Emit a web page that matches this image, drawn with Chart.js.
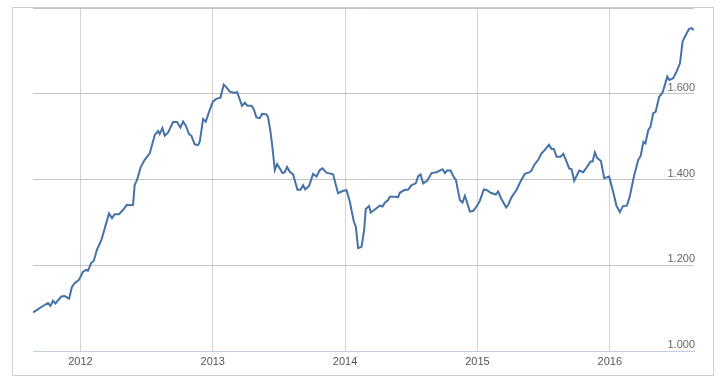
<!DOCTYPE html>
<html>
<head>
<meta charset="utf-8">
<script src="https://cdn.jsdelivr.net/npm/chart.js@4/dist/chart.umd.min.js"></script>
<style>
  html, body { margin: 0; padding: 0; background: #fff; }
  #wrap { width: 725px; height: 386px; position: relative; }
</style>
</head>
<body>
<div id="wrap"><canvas id="chart"></canvas></div>
<script>
// decimal years
const years = [
  2011.642, 2011.692, 2011.717, 2011.755, 2011.773, 2011.793, 2011.811, 2011.856, 2011.881, 2011.914,
  2011.937, 2011.957, 2011.989, 2012.020, 2012.045, 2012.057, 2012.083, 2012.101, 2012.125, 2012.159,
  2012.184, 2012.216, 2012.239, 2012.259, 2012.292, 2012.327, 2012.352, 2012.373, 2012.398, 2012.410,
  2012.428, 2012.456, 2012.486, 2012.524, 2012.562, 2012.587, 2012.599, 2012.620, 2012.637, 2012.662,
  2012.700, 2012.730, 2012.756, 2012.776, 2012.796, 2012.821, 2012.839, 2012.864, 2012.889, 2012.902,
  2012.927, 2012.947, 2012.977, 2013.002, 2013.028, 2013.058, 2013.083, 2013.104, 2013.129, 2013.166,
  2013.184, 2013.204, 2013.221, 2013.242, 2013.262, 2013.293, 2013.310, 2013.330, 2013.355, 2013.373,
  2013.406, 2013.418, 2013.436, 2013.451, 2013.469, 2013.486, 2013.506, 2013.527, 2013.544, 2013.562,
  2013.582, 2013.607, 2013.640, 2013.663, 2013.683, 2013.698, 2013.728, 2013.758, 2013.784, 2013.809,
  2013.829, 2013.859, 2013.909, 2013.947, 2013.980, 2014.011, 2014.036, 2014.048, 2014.066, 2014.081,
  2014.098, 2014.124, 2014.144, 2014.156, 2014.181, 2014.194, 2014.237, 2014.262, 2014.283, 2014.300,
  2014.325, 2014.338, 2014.376, 2014.401, 2014.413, 2014.451, 2014.476, 2014.502, 2014.534, 2014.552,
  2014.570, 2014.590, 2014.620, 2014.653, 2014.691, 2014.736, 2014.754, 2014.771, 2014.797, 2014.822,
  2014.837, 2014.867, 2014.887, 2014.905, 2014.922, 2014.943, 2014.968, 2014.993, 2015.018, 2015.048,
  2015.073, 2015.099, 2015.139, 2015.156, 2015.182, 2015.217, 2015.232, 2015.258, 2015.296, 2015.328,
  2015.358, 2015.396, 2015.409, 2015.429, 2015.459, 2015.484, 2015.509, 2015.540, 2015.560, 2015.577,
  2015.598, 2015.628, 2015.648, 2015.668, 2015.693, 2015.711, 2015.731, 2015.769, 2015.799, 2015.825,
  2015.855, 2015.870, 2015.887, 2015.905, 2015.933, 2015.958, 2015.995, 2016.026, 2016.051, 2016.076,
  2016.099, 2016.129, 2016.152, 2016.182, 2016.215, 2016.233, 2016.254, 2016.269, 2016.290, 2016.307,
  2016.328, 2016.346, 2016.373, 2016.399, 2016.434, 2016.449, 2016.479, 2016.505, 2016.530, 2016.550,
  2016.567, 2016.598, 2016.618, 2016.636
];

const values = [
  1.090, 1.100, 1.105, 1.112, 1.105, 1.117, 1.111, 1.127, 1.128, 1.122,
  1.150, 1.158, 1.166, 1.185, 1.189, 1.187, 1.206, 1.210, 1.236, 1.259,
  1.286, 1.321, 1.310, 1.319, 1.319, 1.331, 1.341, 1.340, 1.341, 1.387,
  1.399, 1.429, 1.446, 1.461, 1.504, 1.513, 1.506, 1.520, 1.502, 1.509,
  1.534, 1.534, 1.521, 1.535, 1.526, 1.506, 1.502, 1.482, 1.480, 1.488,
  1.541, 1.535, 1.562, 1.582, 1.588, 1.591, 1.621, 1.615, 1.605, 1.602,
  1.604, 1.587, 1.572, 1.579, 1.572, 1.572, 1.564, 1.545, 1.543, 1.553,
  1.552, 1.545, 1.512, 1.475, 1.422, 1.436, 1.426, 1.415, 1.417, 1.429,
  1.418, 1.412, 1.376, 1.376, 1.387, 1.377, 1.385, 1.413, 1.407, 1.422,
  1.426, 1.416, 1.412, 1.368, 1.373, 1.375, 1.348, 1.329, 1.302, 1.290,
  1.240, 1.243, 1.282, 1.331, 1.338, 1.323, 1.333, 1.339, 1.337, 1.346,
  1.352, 1.360, 1.360, 1.359, 1.369, 1.376, 1.376, 1.387, 1.391, 1.408,
  1.412, 1.391, 1.397, 1.415, 1.417, 1.424, 1.415, 1.421, 1.421, 1.405,
  1.399, 1.352, 1.346, 1.362, 1.346, 1.325, 1.327, 1.337, 1.350, 1.377,
  1.375, 1.369, 1.365, 1.372, 1.354, 1.335, 1.341, 1.359, 1.376, 1.397,
  1.413, 1.417, 1.421, 1.434, 1.446, 1.461, 1.469, 1.481, 1.471, 1.471,
  1.453, 1.453, 1.460, 1.446, 1.426, 1.424, 1.397, 1.421, 1.417, 1.428,
  1.442, 1.442, 1.463, 1.450, 1.443, 1.403, 1.407, 1.370, 1.338, 1.324,
  1.338, 1.339, 1.362, 1.407, 1.446, 1.455, 1.488, 1.484, 1.515, 1.523,
  1.555, 1.558, 1.593, 1.603, 1.640, 1.632, 1.636, 1.652, 1.671, 1.722,
  1.733, 1.751, 1.753, 1.749
];

const yearTicks = [2012, 2013, 2014, 2015, 2016];
const valueTicks = [1.0, 1.2, 1.4, 1.6, 1.8];

const points = years.map((yr, i) => ({ x: yr, y: values[i] }));

// 外枠を描く
const frame = {
  id: 'frame',
  beforeDraw(chart) {
    const c = chart.ctx;
    c.save();
    c.strokeStyle = '#d0d0d0';
    c.lineWidth = 1;
    c.strokeRect(12.5, 7.5, 701, 368);
    c.restore();
  }
};

new Chart(document.getElementById('chart'), {
  type: 'line',
  data: {
    datasets: [{
      data: points,
      borderColor: '#4572a7',
      borderWidth: 2,
      pointRadius: 0,
      tension: 0,
      fill: false
    }]
  },
  options: {
    responsive: true,
    maintainAspectRatio: false,
    animation: false,
    layout: { padding: { left: 33, right: 31, top: 8, bottom: 0 } },
    plugins: {
      legend: { display: false },
      tooltip: { enabled: false }
    },
    scales: {
      x: {
        type: 'linear',
        min: years[0],
        max: years[years.length - 1],
        afterBuildTicks: axis => { axis.ticks = yearTicks.map(v => ({ value: v })); },
        afterFit: axis => { axis.height = 35; },
        ticks: {
          callback: v => String(v),
          color: '#555',
          font: { family: "'Liberation Sans', Arial, sans-serif", size: 11 },
          padding: 4,
          maxRotation: 0,
          autoSkip: false
        },
        grid: { color: '#d4d4d4', lineWidth: 1, drawTicks: false },
        border: { display: true, color: '#c0d0e0', width: 1 }
      },
      y: {
        position: 'right',
        min: 1.0,
        max: 1.8,
        afterBuildTicks: axis => { axis.ticks = valueTicks.map(v => ({ value: v })); },
        afterFit: axis => { axis.width = 0; },
        ticks: {
          mirror: true,
          padding: 1,
          labelOffset: -6,
          color: '#666',
          font: { family: "'Liberation Sans', Arial, sans-serif", size: 11 },
          callback: v => (v >= 1.79 ? '' : v.toFixed(3))
        },
        grid: {
          color: ctx => (ctx.tick && ctx.tick.value === 1.0 ? '#c0d0e0' : '#c4c4c4'),
          lineWidth: 1,
          drawTicks: false
        },
        border: { display: false }
      }
    }
  },
  plugins: [frame]
});
</script>
</body>
</html>
